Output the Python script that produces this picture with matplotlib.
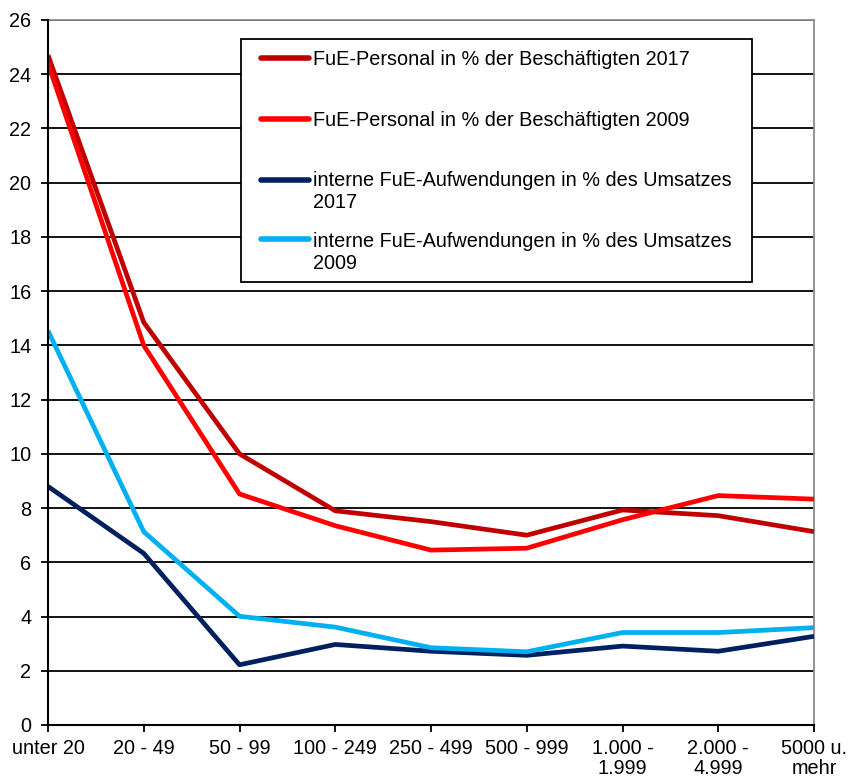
import matplotlib
matplotlib.use("Agg")
import matplotlib.pyplot as plt
from matplotlib.patches import Rectangle

plt.rcParams['font.family'] = ['Liberation Sans', 'DejaVu Sans']

categories = ["unter 20", "20 - 49", "50 - 99", "100 - 249", "250 - 499",
              "500 - 999", "1.000 -\n1.999", "2.000 -\n4.999", "5000 u.\nmehr"]

personal_2017 = [24.7, 14.85, 10.0, 7.9, 7.5, 7.0, 7.93, 7.72, 7.13]
personal_2009 = [24.4, 14.0, 8.52, 7.35, 6.45, 6.52, 7.57, 8.46, 8.33]
aufw_2017 = [8.8, 6.33, 2.22, 2.97, 2.72, 2.57, 2.91, 2.72, 3.27]
aufw_2009 = [14.54, 7.13, 4.01, 3.61, 2.85, 2.7, 3.41, 3.41, 3.59]

labels = ["FuE-Personal in % der Beschäftigten 2017",
          "FuE-Personal in % der Beschäftigten 2009",
          "interne FuE-Aufwendungen in % des Umsatzes\n2017",
          "interne FuE-Aufwendungen in % des Umsatzes\n2009"]
colors = ["#C00000", "#FF0000", "#002060", "#00B0F0"]
series = [personal_2017, personal_2009, aufw_2017, aufw_2009]

W, H = 848, 781
fig = plt.figure(figsize=(W/100, H/100), dpi=100)
# axes box in pixels: left 48, right 814, top 20, bottom 725
ax = fig.add_axes([48/W, (H-725)/H, 766/W, 705/H])

def ax_xy(px, py):
    # pixel position (from top left of figure) -> axes fraction
    return (px - 48) / 766, (725 - py) / 705

x = list(range(len(categories)))
for s, c in zip(series, colors):
    ax.plot(x, s, color=c, lw=3.4, solid_capstyle='butt', zorder=3)

ax.set_xlim(0, 8)
ax.set_ylim(0, 26)
ax.set_yticks(range(0, 27, 2))
ax.set_xticks(x)
ax.set_xticklabels(categories, fontsize=14.3, linespacing=1.05)
ax.tick_params(axis='y', labelsize=14.3, length=5, width=1.3, pad=7)
ax.tick_params(axis='x', length=5, width=1.3, pad=5)
ax.grid(axis='y', color='black', lw=1.3, zorder=1)
ax.set_axisbelow(True)
for side in ['left', 'bottom']:
    ax.spines[side].set_color('black')
    ax.spines[side].set_linewidth(1.5)
    ax.spines[side].set_zorder(4)
for side in ['top', 'right']:
    ax.spines[side].set_color('#8c8c8c')
    ax.spines[side].set_linewidth(1.3)

# legend drawn by hand so that the entries line up like the original
x0, y0 = ax_xy(241, 282)
x1, y1 = ax_xy(752, 39)
ax.add_patch(Rectangle((x0, y0), x1 - x0, y1 - y0, transform=ax.transAxes,
                       facecolor='white', edgecolor='black', lw=1.3, zorder=5))
handle_y = [57.7, 119, 180, 239.5]
base_y = [65, 126, 186.5, 247.5]
for lab, c, hy, by in zip(labels, colors, handle_y, base_y):
    hx0, hyy = ax_xy(261, hy)
    hx1, _ = ax_xy(309, hy)
    ax.plot([hx0, hx1], [hyy, hyy], transform=ax.transAxes, color=c, lw=4,
            solid_capstyle='round', zorder=6, clip_on=False)
    for i, part in enumerate(lab.split("\n")):
        tx, ty = ax_xy(313, by + 22 * i)
        ax.text(tx, ty, part, transform=ax.transAxes, fontsize=14.3,
                ha='left', va='baseline', zorder=6)

fig.savefig("out.png", dpi=100)
